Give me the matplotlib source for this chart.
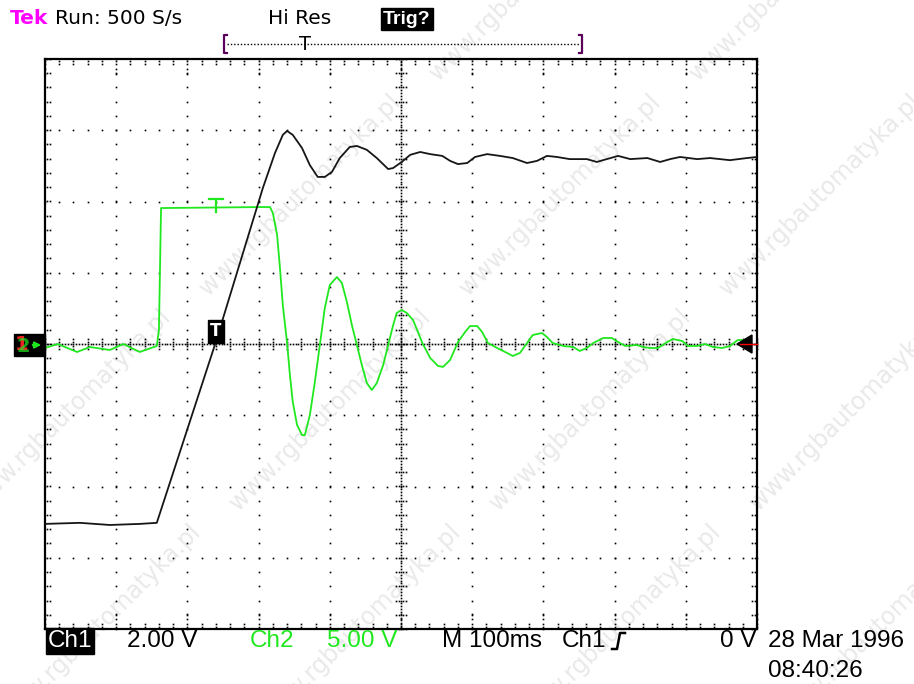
import numpy as np
import matplotlib.pyplot as plt
from matplotlib.patches import Polygon, Rectangle

# Ch1 (black trace), time in ms from left edge of screen, volts
ch1_t = [0, 49, 91, 133, 157, 239, 306, 323, 334, 340, 348, 361, 372, 383, 393, 403, 414, 428, 438, 452,
         466, 482, 489, 501, 513, 527, 541, 558, 569, 580, 593, 604, 621, 639, 657, 677, 691, 705, 719, 737,
         761, 775, 789, 805, 822, 846, 864, 878, 892, 916, 934, 962, 986, 1000]
ch1_v = [-5.05, -5.02, -5.08, -5.05, -5.02, 0.0, 4.38, 5.36, 5.87, 5.98, 5.87, 5.50, 5.02, 4.69, 4.69, 4.83,
         5.22, 5.53, 5.56, 5.45, 5.22, 4.91, 4.94, 5.11, 5.31, 5.39, 5.33, 5.28, 5.14, 5.05, 5.08, 5.25, 5.33,
         5.28, 5.22, 5.08, 5.14, 5.28, 5.25, 5.19, 5.19, 5.11, 5.19, 5.28, 5.19, 5.22, 5.11, 5.19, 5.25, 5.19,
         5.22, 5.16, 5.22, 5.25]

# Ch2 (green trace)
ch2_t = [0, 18, 45, 63, 91, 110, 133, 157, 160, 163, 302, 316, 320, 326, 330, 334, 340, 344, 348, 354,
         361, 365, 372, 379, 386, 393, 400, 410, 417, 424, 431, 438, 445, 452, 459, 466, 475, 482, 489, 494,
         501, 508, 517, 530, 541, 552, 559, 569, 580, 590, 597, 607, 614, 622, 635, 649, 657, 667, 677, 685,
         698, 705, 713, 728, 742, 751, 761, 770, 784, 796, 805, 815, 831, 840, 850, 861, 874, 882, 895, 903,
         916, 927, 938, 951, 962, 973, 980, 987]
ch2_v = [-0.28, 0.0, -0.56, -0.21, -0.42, 0.0, -0.56, -0.14, 0.98, 9.54, 9.61, 9.61, 9.19, 7.65, 5.33,
         2.74, 0.07, -2.18, -4.07, -5.68, -6.39, -6.39, -4.98, -2.67, -0.07, 2.53, 4.14, 4.70, 4.28, 2.95,
         1.33, -0.07, -1.47, -2.74, -3.23, -2.74, -1.47, -0.07, 1.33, 2.18, 2.39, 2.18, 1.68, 0.07, -0.98,
         -1.54, -1.61, -1.12, 0.14, 0.84, 1.26, 1.26, 0.84, 0.07, -0.28, -0.63, -0.84, -0.63, 0.07, 0.63,
         0.77, 0.49, 0.07, -0.14, -0.21, -0.49, -0.28, 0.07, 0.42, 0.42, 0.14, -0.14, -0.07, -0.21, -0.28,
         -0.28, 0.14, 0.35, 0.21, -0.14, -0.14, 0.0, -0.21, -0.28, -0.14, 0.28, 0.28, -0.07]

ch1_vdiv = 2.0
ch2_vdiv = 5.0
t_div = 100
trig_t = 240
trig2_level = 10.2

W, H = 914, 684
GREEN = '#1fe81f'
MAGENTA = '#ff00ff'
lib = ['Liberation Sans', 'DejaVu Sans']

fig = plt.figure(figsize=(W / 100, H / 100), dpi=100)
fig.patch.set_facecolor('white')

# watermark tiles
for j in range(-1, 3):
    for i in range(-1, 5):
        cx = 560 + 260 * i - 230 * j
        cy = 195 + 215 * j
        fig.text(cx / W, 1 - cy / H, 'www.rgbautomatyka.pl', rotation=45, fontsize=17,
                 color='#e9e9e9', ha='center', va='center', zorder=-5)

ax = fig.add_axes([45 / W, 1 - 629 / H, 712 / W, 570 / H])
ax.patch.set_alpha(0)
ax.set_xlim(0, 10 * t_div)
ax.set_ylim(-4, 4)
ax.set_xticks([])
ax.set_yticks([])
for s in ax.spines.values():
    s.set_linewidth(1.6)

dot = dict(ls='none', marker='s', ms=1.2, mew=0, color='black', clip_on=False)

# graticule
yy = np.arange(-4, 4.001, 0.2)
xx = np.arange(0, 1000.1, 20)
for k in range(1, 10):
    if k != 5:
        ax.plot(np.full_like(yy, k * t_div), yy, **dot)
for j in range(-3, 4):
    if j != 0:
        ax.plot(xx, np.full_like(xx, j), **dot)

xd = np.arange(0, 1000.1, 4)
ax.plot(xd, np.zeros_like(xd), **dot)
yd = np.arange(-4, 4.001, 0.04)
ax.plot(np.full_like(yd, 500), yd, **dot)

offs = np.array([-0.07, -0.035, 0.035, 0.07])
ax.plot(np.repeat(xx, 4), np.tile(offs, len(xx)), **dot)
ax.plot(500 + np.tile(offs, len(yy)) * t_div, np.repeat(yy, 4), **dot)

# edge ticks
inn = np.array([0.035, 0.07])
ax.plot(np.repeat(xx, 2), np.tile(4 - inn, len(xx)), **dot)
ax.plot(np.repeat(xx, 2), np.tile(-4 + inn, len(xx)), **dot)
ax.plot(np.tile(inn * t_div, len(yy)), np.repeat(yy, 2), **dot)
ax.plot(np.tile(1000 - inn * t_div, len(yy)), np.repeat(yy, 2), **dot)
xm = np.arange(0, 1000.1, 100)
ax.plot(np.repeat(xm, 2), np.tile(4 - 2 * inn - 0.07, len(xm)), **dot)
ax.plot(np.repeat(xm, 2), np.tile(-4 + 2 * inn + 0.07, len(xm)), **dot)

# traces
ax.plot(ch1_t, np.array(ch1_v) / ch1_vdiv, color='#161616', lw=1.3, zorder=5)
ax.plot(ch2_t, np.array(ch2_v) / ch2_vdiv, color=GREEN, lw=1.3, zorder=4)

# trigger markers
ax.text(trig_t, 0.05, 'T', color='white', fontsize=12, fontweight='bold', ha='center', va='bottom',
        zorder=6, bbox=dict(boxstyle='square,pad=0.15', fc='black', ec='black'))
g = trig2_level / ch2_vdiv
ax.plot([trig_t - 10, trig_t + 10], [g, g], color=GREEN, lw=1.6, zorder=6)
ax.plot([trig_t, trig_t], [g, g - 0.19], color=GREEN, lw=1.6, zorder=6)

# screen decorations in pixel coords
deco = fig.add_axes([0, 0, 1, 1], zorder=3)
deco.set_xlim(0, W)
deco.set_ylim(H, 0)
deco.axis('off')
deco.patch.set_alpha(0)

deco.text(10, 19, 'Tek', color=MAGENTA, fontsize=14.5, fontweight='bold', va='center')
deco.text(55, 19, 'Run: 500 S/s', color='black', fontsize=14.5, va='center')
deco.text(268, 19, 'Hi Res', color='black', fontsize=14.5, va='center')
deco.text(383, 19, 'Trig?', color='white', fontsize=14, fontweight='bold', va='center', family=lib,
          bbox=dict(boxstyle='square,pad=0.12', fc='black', ec='black'))

deco.plot([227, 580], [44, 44], color='black', lw=1, ls=(0, (1, 1.4)))
for bx, d in [(224, 1), (582, -1)]:
    deco.plot([bx + 3 * d, bx, bx, bx + 3 * d], [35, 35, 53, 53], color='#5a005a', lw=1.6)
deco.text(305, 44, 'T', color='black', fontsize=14, ha='center', va='center')

deco.add_patch(Rectangle((14, 334), 31, 22, fc='black', ec='black'))
deco.text(22, 345, '1', color='#ee2222', fontsize=14, fontweight='bold', ha='center', va='center')
deco.text(23, 346, '2', color=GREEN, fontsize=14, fontweight='bold', ha='center', va='center', alpha=0.7)
deco.annotate('', xy=(44, 345), xytext=(30, 345),
              arrowprops=dict(arrowstyle='-|>', color=GREEN, lw=1.5, mutation_scale=9))

deco.plot([740, 757], [344, 344], color='red', lw=1)
deco.add_patch(Polygon([(737, 344), (752, 335), (752, 353)], closed=True, fc='black', ec='black'))

by = 641
fs = 17.5
deco.text(48, by, 'Ch1', color='white', fontsize=fs, va='center', family=lib,
          bbox=dict(boxstyle='square,pad=0.08', fc='black', ec='black'))
deco.text(127, by, '2.00 V', color='black', fontsize=fs, va='center', family=lib)
deco.text(250, by, 'Ch2', color=GREEN, fontsize=fs, va='center', family=lib)
deco.text(327, by, '5.00 V', color=GREEN, fontsize=fs, va='center', family=lib)
deco.text(442, by, 'M 100ms', color='black', fontsize=fs, va='center', family=lib)
deco.text(562, by, 'Ch1', color='black', fontsize=fs, va='center', family=lib)
deco.plot([612, 617, 620, 625], [649, 649, 633, 633], color='black', lw=1.8)
deco.text(757, by, '0 V', color='black', fontsize=fs, va='center', ha='right', family=lib)
deco.text(768, by, '28 Mar 1996', color='black', fontsize=fs, va='center', family=lib)
deco.text(768, 671, '08:40:26', color='black', fontsize=fs, va='center', family=lib)

fig.savefig('out.png', dpi=100, facecolor='white')
